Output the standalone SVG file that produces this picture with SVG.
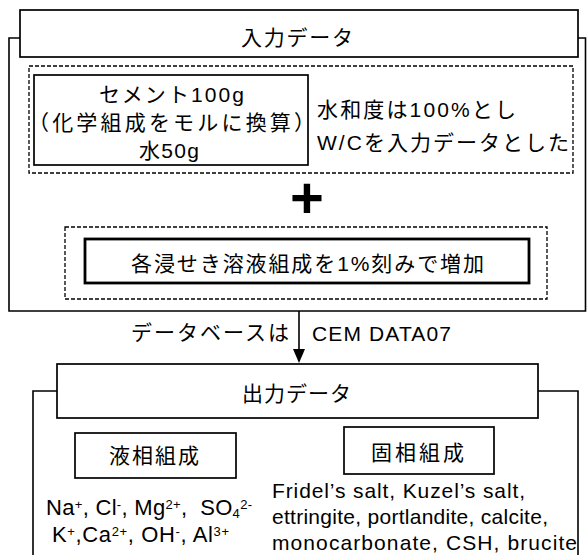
<svg xmlns="http://www.w3.org/2000/svg" width="587" height="555" viewBox="0 0 587 555">
<style>
.box{fill:#fff;stroke:#000;stroke-width:1.7}
.thick{fill:#fff;stroke:#000;stroke-width:2.8}
.dash{fill:none;stroke:#000;stroke-width:1.3;stroke-dasharray:4 2}
.frame{fill:none;stroke:#000;stroke-width:1.6}
.t{font-family:"Liberation Sans","Noto Sans CJK JP",Arial,sans-serif;font-size:21px;fill:#000}
.ion{font-family:"Liberation Sans",Arial,sans-serif;font-size:22px;fill:#000}
.s{font-size:13px}
</style>
<g id="connectors">
<path class="frame" d="M20,38 H9 V311 H585.5 V38 H578"/>
<path class="frame" d="M57,391 H33 V556 M538,391 H578 V556"/>
<line x1="299" y1="311" x2="299" y2="349" stroke="#000" stroke-width="1.6"/>
<path d="M293,349 L305,349 L299,363 Z" fill="#000"/>
<text class="t" x="131" y="340" textLength="158" lengthAdjust="spacing">データベースは</text>
<text class="t" x="312" y="341" textLength="139" lengthAdjust="spacing">CEM DATA07</text>
</g>
<g id="input">
<rect class="box" x="20" y="10" width="558" height="47" stroke-width="2"/>
<text class="t" x="241" y="45" textLength="112" lengthAdjust="spacing">入力データ</text>
</g>
<g id="group1">
<rect class="dash" x="29" y="66" width="544" height="107"/>
</g>
<g id="cement">
<rect class="box" x="34" y="75" width="274" height="90"/>
<text class="t" x="99" y="102" textLength="145" lengthAdjust="spacing">セメント100g</text>
<text class="t" x="28" y="130" textLength="287" lengthAdjust="spacing">（化学組成をモルに換算）</text>
<text class="t" x="139" y="158" textLength="60" lengthAdjust="spacing">水50g</text>
</g>
<g id="hydration">
<text class="t" x="317" y="117" textLength="199" lengthAdjust="spacing">水和度は100%とし</text>
<text class="t" x="317" y="150" textLength="252" lengthAdjust="spacing">W/Cを入力データとした</text>
</g>
<g id="plus">
<text x="307" y="218" text-anchor="middle" style="font-family:'Liberation Sans',Arial,sans-serif;font-size:58px;font-weight:bold">+</text>
</g>
<g id="group2">
<rect class="dash" x="65" y="227" width="482" height="72"/>
</g>
<g id="solution">
<rect class="thick" x="85" y="239" width="444" height="44"/>
<text class="t" x="131" y="271" textLength="353" lengthAdjust="spacing">各浸せき溶液組成を1%刻みで増加</text>
</g>
<g id="output">
<rect class="box" x="57" y="364" width="481" height="54"/>
<text class="t" x="242" y="401" textLength="109" lengthAdjust="spacing">出力データ</text>
</g>
<g id="liquid">
<rect class="box" x="75" y="433" width="161" height="45"/>
<text class="t" x="109" y="463" textLength="90" lengthAdjust="spacing">液相組成</text>
<text class="ion" x="46" y="515" xml:space="preserve" textLength="206" lengthAdjust="spacing">Na<tspan class="s" dy="-6">+</tspan><tspan dy="6">, Cl</tspan><tspan class="s" dy="-6">-</tspan><tspan dy="6">, Mg</tspan><tspan class="s" dy="-6">2+</tspan><tspan dy="6">,  SO</tspan><tspan class="s" dy="3">4</tspan><tspan class="s" dy="-9">2-</tspan></text>
<text class="ion" x="52" y="542" xml:space="preserve" textLength="177" lengthAdjust="spacing">K<tspan class="s" dy="-6">+</tspan><tspan dy="6">,Ca</tspan><tspan class="s" dy="-6">2+</tspan><tspan dy="6">, OH</tspan><tspan class="s" dy="-6">-</tspan><tspan dy="6">, Al</tspan><tspan class="s" dy="-6">3+</tspan></text>
</g>
<g id="solid">
<rect class="box" x="344" y="427" width="150" height="47"/>
<text class="t" x="371" y="460" textLength="93" lengthAdjust="spacing">固相組成</text>
<text class="t" x="272" y="498" textLength="253" lengthAdjust="spacing">Fridel’s salt, Kuzel’s salt,</text>
<text class="t" x="272" y="524" textLength="276" lengthAdjust="spacing">ettringite, portlandite, calcite,</text>
<text class="t" x="272" y="550" textLength="305" lengthAdjust="spacing">monocarbonate, CSH, brucite</text>
</g>
</svg>
